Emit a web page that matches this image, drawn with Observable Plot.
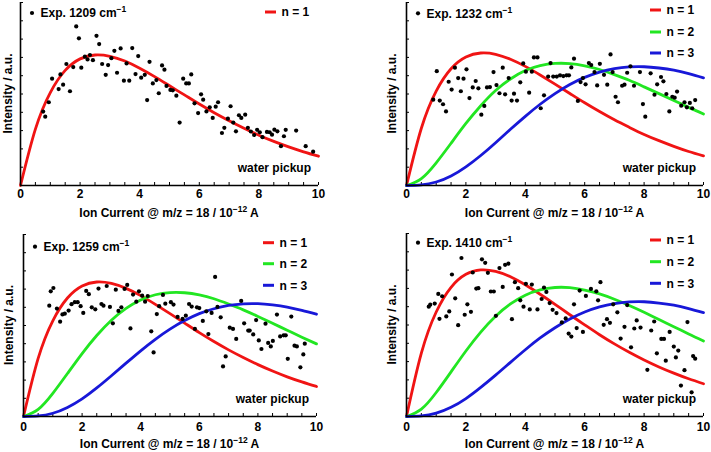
<!DOCTYPE html>
<html><head><meta charset="utf-8">
<script src="https://cdn.jsdelivr.net/npm/d3@7"></script>
<script src="https://cdn.jsdelivr.net/npm/@observablehq/plot@0.6"></script>
<style>
body{margin:0;background:#fff;}
#wrap{position:relative;width:711px;height:452px;overflow:hidden;}
.panel{position:absolute;}
</style></head><body><div id="wrap"></div>
<script>
// ---------- DATA ----------
const xTicksMajor = [0, 2, 4, 6, 8, 10];
const xFit = [0,0.5,1,1.5,2,2.5,3,3.5,4,4.5,5,5.5,6,6.5,7,7.5,8,8.5,9,9.5,10];
const seriesNames = ["n = 1", "n = 2", "n = 3"];
const seriesColors = ["#f01414", "#22e622", "#1818d8"];

// Panel 1: Exp. 1209 cm-1
const exp1209X = [0.76,0.83,0.95,1.06,1.28,1.34,1.43,1.54,1.66,1.77,1.87,1.96,2.04,2.16,2.25,2.33,2.43,2.55,2.64,2.74,2.86,2.94,3.05,3.15,3.24,3.36,3.47,3.56,3.65,3.75,3.86,3.95,4.05,4.17,4.25,4.33,4.44,4.56,4.64,4.75,4.83,4.90,5.03,5.11,5.23,5.34,5.46,5.56,5.65,5.73,5.84,5.96,6.06,6.13,6.24,6.35,6.45,6.55,6.63,6.76,6.84,6.96,7.05,7.14,7.23,7.33,7.41,7.54,7.63,7.73,7.84,7.94,8.03,8.12,8.27,8.36,8.44,8.52,8.62,8.74,8.84,8.90,9.25,9.57,9.82];
const exp1209Y = [4.04,3.76,4.55,5.84,5.27,6.07,5.51,6.64,5.15,6.47,8.69,8.04,6.44,7.04,6.89,7.13,6.85,8.18,7.73,6.64,6.05,6.58,6.96,7.36,6.16,7.49,5.73,6.67,5.73,7.51,6.09,7.07,5.89,6.05,4.67,6.76,5.58,5.76,5.04,6.56,6.33,5.44,5.22,5.20,4.91,3.44,5.84,5.58,5.58,6.07,4.49,3.96,4.98,4.69,4.05,4.27,3.69,4.31,4.55,2.87,3.15,3.65,4.33,3.44,2.96,3.84,3.69,3.87,3.15,2.95,2.76,3.04,2.91,2.64,2.93,2.91,2.78,3.05,2.96,2.15,2.69,3.04,3.00,2.15,1.85];
const fit1209N1 = [0,3.08,5.08,6.29,6.92,7.13,7.06,6.80,6.41,5.95,5.45,4.95,4.45,3.98,3.54,3.13,2.75,2.41,2.11,1.84,1.60];

// Panel 2: Exp. 1232 cm-1
const exp1232X = [0.90,1.02,1.12,1.23,1.33,1.42,1.52,1.63,1.74,1.83,1.92,2.02,2.12,2.23,2.33,2.42,2.52,2.62,2.71,2.81,2.93,3.03,3.13,3.24,3.32,3.44,3.54,3.62,3.72,3.83,3.93,4.02,4.13,4.22,4.29,4.41,4.52,4.63,4.77,4.85,4.94,5.06,5.17,5.28,5.39,5.47,5.55,5.64,5.77,5.86,5.94,6.03,6.14,6.22,6.33,6.42,6.51,6.65,6.76,6.87,6.94,7.04,7.12,7.26,7.34,7.43,7.54,7.66,7.86,7.96,8.04,8.22,8.35,8.44,8.57,8.65,8.75,8.85,8.95,9.03,9.11,9.25,9.36,9.44,9.54,9.62,9.72];
const exp1232Y = [4.69,6.25,4.64,4.44,4.05,5.67,5.24,6.44,5.87,5.15,5.84,6.35,4.78,5.36,5.71,5.31,3.87,4.35,5.36,5.38,6.20,5.49,5.04,6.44,4.98,5.87,4.64,5.02,4.64,5.64,6.67,6.22,5.07,6.22,7.00,7.00,4.22,4.93,5.95,6.69,5.95,5.95,6.02,5.98,6.02,6.02,6.45,6.93,4.62,5.65,5.87,5.53,6.69,6.58,6.20,5.47,6.65,6.05,5.51,7.16,6.20,4.85,4.55,5.45,5.51,6.16,6.51,5.45,6.20,4.45,3.76,6.13,4.96,5.53,5.93,5.69,5.00,4.05,4.85,4.80,5.13,4.36,4.55,4.27,4.51,4.22,4.67];
const fit1232N1 = [0,3.13,5.16,6.38,7.02,7.24,7.17,6.90,6.51,6.04,5.54,5.03,4.52,4.04,3.59,3.18,2.79,2.45,2.14,1.86,1.62];
const fit1232N2 = [0,0.38,1.24,2.31,3.39,4.36,5.19,5.82,6.28,6.55,6.67,6.66,6.54,6.34,6.06,5.75,5.39,5.02,4.65,4.27,3.91];
const fit1232N3 = [0,0.03,0.19,0.52,1.02,1.64,2.34,3.07,3.78,4.44,5.02,5.52,5.91,6.20,6.39,6.48,6.49,6.42,6.30,6.11,5.88];

// Panel 3: Exp. 1259 cm-1
const exp1259X = [0.88,0.93,1.02,1.14,1.25,1.33,1.41,1.54,1.64,1.75,1.85,1.95,2.04,2.14,2.23,2.33,2.45,2.56,2.66,2.73,2.84,2.95,3.05,3.15,3.24,3.34,3.45,3.54,3.65,3.74,3.85,3.94,4.05,4.15,4.24,4.36,4.44,4.55,4.63,4.76,4.84,5.03,5.12,5.26,5.43,5.54,5.65,5.74,5.85,5.92,6.00,6.12,6.24,6.31,6.42,6.54,6.62,6.73,6.81,6.90,7.04,7.15,7.26,7.43,7.53,7.67,7.72,7.84,7.94,8.03,8.12,8.26,8.35,8.44,8.51,8.65,8.76,8.88,8.95,9.02,9.14,9.25,9.33,9.45,9.55,9.60];
const exp1259Y = [6.09,6.88,7.06,5.93,5.21,5.61,5.65,5.82,6.17,6.28,6.28,6.06,5.69,6.90,6.72,6.00,5.89,7.03,6.18,6.09,7.17,6.02,5.12,6.97,5.80,6.00,7.01,7.23,4.84,6.70,6.31,6.88,6.64,6.31,6.62,4.68,3.52,5.63,6.06,6.68,6.20,6.28,6.15,5.47,5.36,5.54,6.18,6.04,4.81,6.00,5.96,5.25,5.78,4.53,5.69,7.67,6.02,5.45,2.75,3.30,4.88,4.81,4.26,6.35,5.12,4.72,4.72,4.51,5.30,4.18,3.71,5.10,4.04,3.85,4.15,5.60,4.40,4.46,4.46,3.17,5.49,3.89,3.85,2.70,3.41,4.00];
const fit1259N1 = [0,3.19,5.26,6.51,7.17,7.39,7.31,7.04,6.64,6.16,5.65,5.13,4.61,4.12,3.66,3.24,2.85,2.50,2.18,1.90,1.65];
const fit1259N2 = [0,0.39,1.27,2.36,3.46,4.45,5.29,5.94,6.40,6.69,6.81,6.80,6.68,6.47,6.18,5.86,5.50,5.12,4.74,4.36,3.99];
const fit1259N3 = [0,0.03,0.18,0.50,0.97,1.57,2.24,2.93,3.61,4.24,4.80,5.27,5.65,5.92,6.10,6.19,6.20,6.13,6.01,5.83,5.62];

// Panel 4: Exp. 1410 cm-1
const exp1410X = [0.75,0.80,0.95,1.07,1.11,1.20,1.34,1.44,1.53,1.64,1.74,1.85,1.96,2.05,2.17,2.23,2.35,2.42,2.54,2.65,2.74,2.84,2.94,3.01,3.13,3.24,3.32,3.43,3.55,3.65,3.76,3.83,3.94,4.02,4.15,4.22,4.41,4.55,4.63,4.71,4.82,4.92,5.05,5.23,5.36,5.46,5.55,5.64,5.73,5.83,5.94,6.04,6.21,6.39,6.45,6.53,6.64,6.75,6.85,6.96,7.10,7.21,7.34,7.43,7.56,7.67,7.75,7.88,8.11,8.24,8.34,8.43,8.58,8.67,8.73,8.86,9.00,9.07,9.15,9.24,9.36,9.46,9.60,9.65,9.72];
const exp1410Y = [6.00,6.11,6.17,6.70,5.34,6.57,5.47,5.74,7.76,6.46,4.99,8.66,5.56,6.13,5.72,7.87,6.99,7.01,8.59,8.40,7.85,6.83,6.83,5.50,8.11,7.08,8.29,8.35,5.32,7.34,7.01,6.35,6.00,7.25,5.85,7.21,5.85,6.42,7.05,6.81,6.20,5.83,5.65,5.14,5.36,4.53,4.37,6.13,4.83,6.88,4.62,6.59,6.97,6.84,6.35,7.34,5.01,5.32,5.12,6.13,5.69,4.26,4.90,6.09,3.78,4.81,5.25,4.86,2.55,4.70,5.19,3.45,4.24,4.24,3.05,4.62,3.82,3.23,3.60,1.69,2.53,5.16,1.32,3.30,3.16];
const fit1410N1 = [0,3.46,5.71,7.06,7.77,8.01,7.93,7.64,7.20,6.68,6.13,5.56,5.01,4.47,3.97,3.51,3.09,2.71,2.37,2.06,1.79];
const fit1410N2 = [0,0.40,1.31,2.44,3.58,4.61,5.48,6.15,6.63,6.92,7.05,7.04,6.91,6.70,6.41,6.07,5.70,5.30,4.91,4.51,4.13];
const fit1410N3 = [0,0.03,0.18,0.50,0.98,1.59,2.26,2.96,3.65,4.29,4.85,5.33,5.71,5.99,6.17,6.26,6.27,6.20,6.08,5.90,5.68];

const expLabels = ["1209", "1232", "1259", "1410"];
const yLabel = "Intensity / a.u.";
const cornerNote = "water pickup";

// ---------- LAYOUT ----------
const FONT = '"Liberation Sans", Arial, Helvetica, sans-serif';
const panels = [
  {label: expLabels[0], ex: exp1209X, ey: exp1209Y, fits: [fit1209N1],
   left: 0, top: 0, width: 355, height: 226, mL: 20, mR: 37, mT: 2, mB: 41, pad: 4, expDy: 11, rows: [10], yLabOff: 12},
  {label: expLabels[1], ex: exp1232X, ey: exp1232Y, fits: [fit1232N1, fit1232N2, fit1232N3],
   left: 360, top: 0, width: 351, height: 226, mL: 46, mR: 8, mT: 2, mB: 41, pad: 4, expDy: 11.3, rows: [8, 30, 51], yLabOff: 14},
  {label: expLabels[2], ex: exp1259X, ey: exp1259Y, fits: [fit1259N1, fit1259N2, fit1259N3],
   left: 0, top: 226, width: 355, height: 226, mL: 23, mR: 39, mT: 8, mB: 36, pad: 6, expDy: 12.7, rows: [8.7, 29.7, 51.3], yLabOff: 14},
  {label: expLabels[3], ex: exp1410X, ey: exp1410Y, fits: [fit1410N1, fit1410N2, fit1410N3],
   left: 360, top: 226, width: 351, height: 226, mL: 46, mR: 8, mT: 7, mB: 36, pad: 6, expDy: 9.7, rows: [7, 28.7, 50.3], yLabOff: 14}
];

function decor(p) {
  return (index, scales, values, dims) => {
    const L = dims.marginLeft, R = dims.width - dims.marginRight;
    const T = dims.marginTop, B = dims.height - dims.marginBottom;
    const g = d3.create("svg:g")
      .attr("font-family", FONT).attr("font-weight", "bold").attr("fill", "black")
      .attr("text-anchor", "start");
    // y label
    g.append("text")
      .attr("transform", `translate(${L - p.yLabOff},${(T + B) / 2}) rotate(-90)`)
      .attr("text-anchor", "middle").attr("dy", "0.35em").attr("font-size", 12)
      .text(yLabel);
    // x label
    const xl = g.append("text")
      .attr("x", (L + R) / 2).attr("y", B + 27.5)
      .attr("text-anchor", "middle").attr("dy", "0.35em").attr("font-size", 12);
    xl.append("tspan").text("Ion Current @ m/z = 18 / 10");
    xl.append("tspan").attr("font-size", 8.5).attr("dy", -5).text("\u221212");
    xl.append("tspan").attr("dy", 5).text(" A");
    // experimental legend
    g.append("circle").attr("cx", L + 12).attr("cy", T + p.expDy).attr("r", 2.1);
    const el = g.append("text").attr("x", L + 20.5).attr("y", T + p.expDy)
      .attr("text-anchor", "start").attr("dy", "0.35em").attr("font-size", 12);
    el.append("tspan").text(`Exp. ${p.label} cm`);
    el.append("tspan").attr("font-size", 8.5).attr("dy", -5).text("\u22121");
    // fit legend
    p.fits.forEach((f, i) => {
      const y = T + p.rows[i];
      g.append("line").attr("x1", R - 53).attr("x2", R - 42).attr("y1", y).attr("y2", y)
        .attr("stroke", seriesColors[i]).attr("stroke-width", 3);
      g.append("text").attr("x", R - 36.5).attr("y", y).attr("dy", "0.35em")
        .attr("text-anchor", "start").attr("font-size", 12).text(seriesNames[i]);
    });
    // note
    g.append("text").attr("x", R - 7).attr("y", B - 17.5).attr("dy", "0.35em")
      .attr("text-anchor", "end").attr("font-size", 12).text(cornerNote);
    return g.node();
  };
}

const wrap = document.getElementById("wrap");
panels.forEach(p => {
  const pts = p.ex.map((x, i) => ({x, y: p.ey[i]}));
  const fitMarks = p.fits.map((f, i) =>
    Plot.line(xFit.map((x, j) => ({x, y: f[j]})), {
      x: "x", y: "y", stroke: seriesColors[i], strokeWidth: 2.8, curve: "natural"
    }));
  const chart = Plot.plot({
    width: p.width, height: p.height,
    marginLeft: p.mL, marginRight: p.mR, marginTop: p.mT, marginBottom: p.mB,
    style: {fontFamily: FONT, fontSize: "12px", fontWeight: "bold", background: "white", color: "black"},
    x: {domain: [0, 10]},
    y: {domain: [0, 10]},
    marks: [
      Plot.axisX({ticks: d3.range(0, 10.001, 0.5), tickSize: -3, fill: "none", strokeWidth: 1}),
      Plot.axisX({ticks: xTicksMajor, tickSize: 0, tickPadding: p.pad, label: null, fontSize: 12, fontWeight: "bold"}),
      Plot.axisY({ticks: d3.range(0, 10.001, 1), tickSize: -3, fill: "none", strokeWidth: 1}),
      ...fitMarks,
      Plot.dot(pts, {x: "x", y: "y", r: 2.1, fill: "black", stroke: "none"}),
      Plot.ruleX([0], {strokeWidth: 1.6}),
      Plot.ruleY([0], {strokeWidth: 1.6}),
      decor(p)
    ]
  });
  const div = document.createElement("div");
  div.className = "panel";
  div.style.left = p.left + "px";
  div.style.top = p.top + "px";
  div.appendChild(chart);
  wrap.appendChild(div);
});
</script>
</body></html>
